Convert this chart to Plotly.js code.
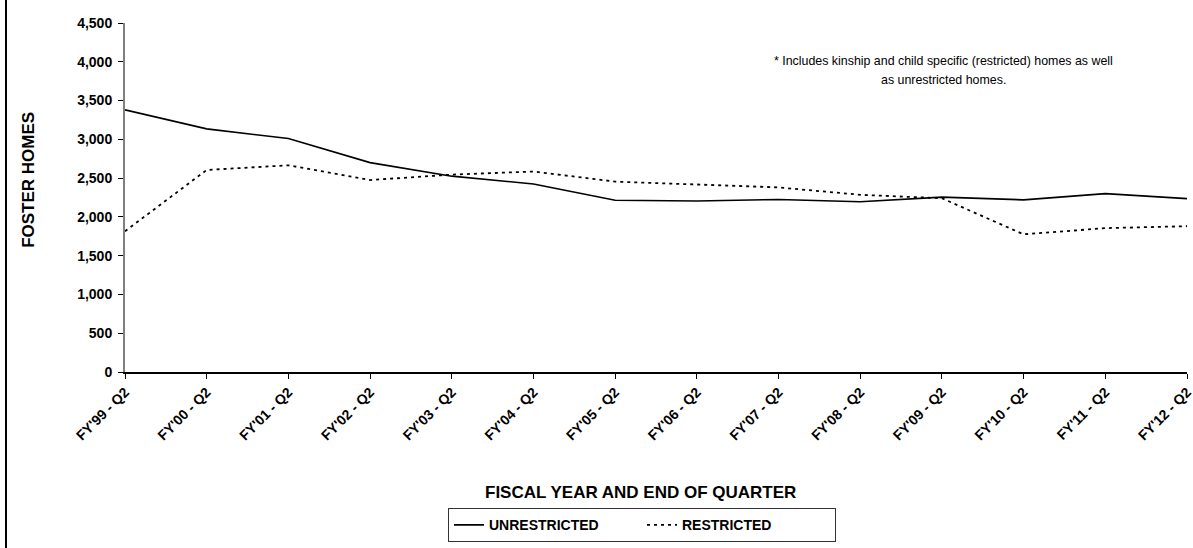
<!DOCTYPE html>
<html>
<head>
<meta charset="utf-8">
<script src="https://cdn.plot.ly/plotly-3.0.1.min.js"></script>
<style>html,body{margin:0;padding:0;background:#fff;}#chart{width:1193px;height:548px;}</style>
</head>
<body>
<div id="chart"></div>
<script>
const categories = ["FY'99 - Q2","FY'00 - Q2","FY'01 - Q2","FY'02 - Q2","FY'03 - Q2","FY'04 - Q2","FY'05 - Q2","FY'06 - Q2","FY'07 - Q2","FY'08 - Q2","FY'09 - Q2","FY'10 - Q2","FY'11 - Q2","FY'12 - Q2"];
const unrestricted = [3380, 3135, 3010, 2700, 2525, 2425, 2215, 2205, 2225, 2195, 2255, 2220, 2300, 2235];
const restricted = [1815, 2605, 2665, 2475, 2545, 2585, 2455, 2420, 2380, 2285, 2240, 1775, 1855, 1880];
const yTicks = [0, 500, 1000, 1500, 2000, 2500, 3000, 3500, 4000, 4500];

const W = 1193, H = 548;
const mL = 125, mR = 6, mT = 23, mB = 169;
const pw = W - mL - mR, ph = H - mT - mB;
const px = x => (x - mL) / pw;
const py = y => (H - mB - y) / ph;

const BOLD = "Liberation Sans, Arial, sans-serif";

const traces = [
  {x: categories, y: unrestricted, name: 'UNRESTRICTED', type: 'scatter', mode: 'lines',
   line: {color: '#000', width: 1.6}},
  {x: categories, y: restricted, name: 'RESTRICTED', type: 'scatter', mode: 'lines',
   line: {color: '#000', width: 1.8, dash: '3px,4px'}}
];

const layout = {
  width: W, height: H,
  margin: {l: mL, r: mR, t: mT, b: mB},
  paper_bgcolor: '#fff', plot_bgcolor: '#fff',
  showlegend: true,
  legend: {orientation: 'h', x: px(642), xanchor: 'center', y: py(518), yanchor: 'top',
    entrywidth: 148, entrywidthmode: 'pixels',
    bordercolor: '#333', borderwidth: 1, bgcolor: '#fff',
    font: {family: BOLD, size: 14, color: '#000', weight: 'bold'}},
  xaxis: {type: 'category', range: [0, 13], showgrid: false, zeroline: false,
    showline: true, linecolor: '#000', linewidth: 1.5,
    ticks: 'outside', ticklen: 5, tickcolor: '#000', tickwidth: 1,
    tickangle: -45, tickfont: {family: BOLD, size: 14, color: '#000', weight: 'bold'}},
  yaxis: {range: [0, 4500], tickvals: yTicks, tickformat: ',', showgrid: false, zeroline: false,
    showline: true, linecolor: '#808080', linewidth: 2,
    ticks: 'outside', ticklen: 5, tickcolor: '#000', tickwidth: 1, ticklabelstandoff: 3,
    tickfont: {family: BOLD, size: 14, color: '#000', weight: 'bold'}},
  annotations: [
    {text: 'FISCAL YEAR AND END OF QUARTER', xref: 'paper', yref: 'paper', x: px(640), y: py(502),
     xanchor: 'center', yanchor: 'middle', showarrow: false,
     font: {family: BOLD, size: 17, color: '#000', weight: 'bold'}},
    {text: 'FOSTER HOMES', xref: 'paper', yref: 'paper', x: px(29), y: py(183), textangle: -90,
     xanchor: 'center', yanchor: 'middle', showarrow: false,
     font: {family: BOLD, size: 17, color: '#000', weight: 'bold'}},
    {text: '* Includes kinship and child specific (restricted) homes as well', xref: 'paper', yref: 'paper',
     x: px(943), y: py(62), xanchor: 'center', yanchor: 'middle', showarrow: false,
     font: {family: "Liberation Sans, Arial, sans-serif", size: 12.4, color: '#000'}},
    {text: 'as unrestricted homes.', xref: 'paper', yref: 'paper',
     x: px(943), y: py(81), xanchor: 'center', yanchor: 'middle', showarrow: false,
     font: {family: "Liberation Sans, Arial, sans-serif", size: 12.4, color: '#000'}}
  ],
  shapes: [
    {type: 'line', xref: 'paper', yref: 'paper', x0: px(6), x1: px(6), y0: -2, y1: 2,
     line: {color: '#000', width: 2}}
  ]
};

Plotly.newPlot('chart', traces, layout, {displayModeBar: false, staticPlot: true});
</script>
</body>
</html>
